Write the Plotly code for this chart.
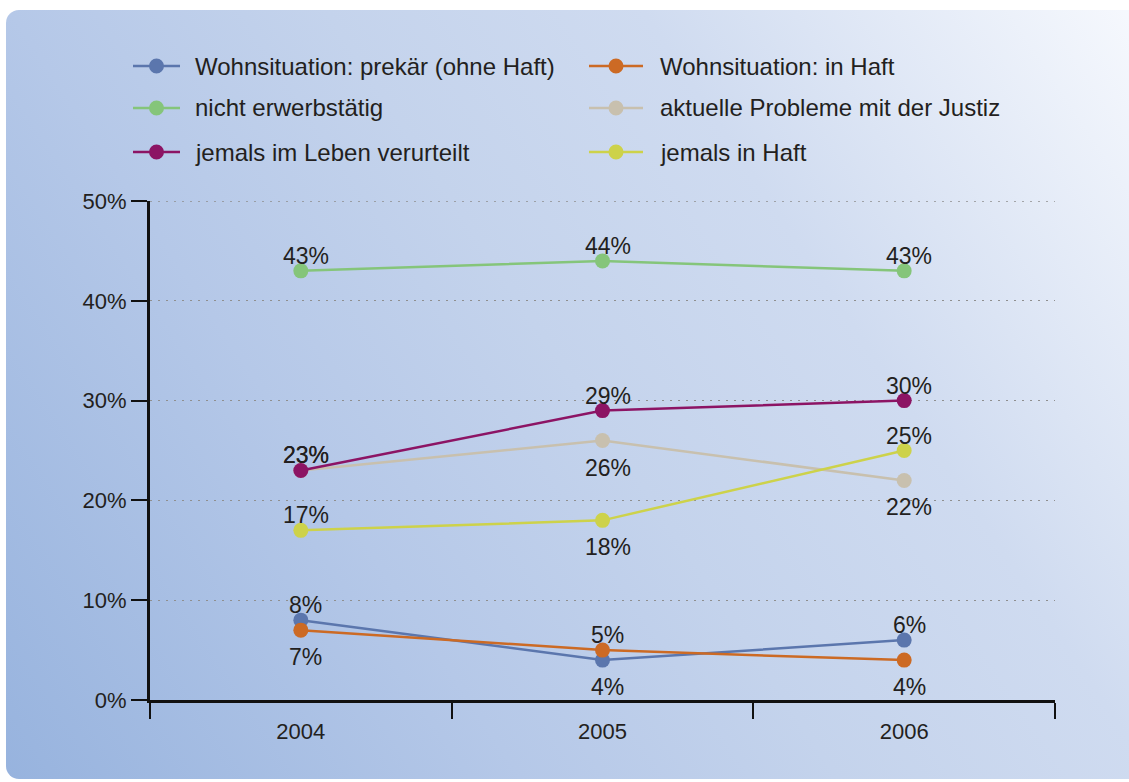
import base64
import plotly.graph_objects as go

# ---------------- data ----------------
years = ["2004", "2005", "2006"]
series_names = [
    "Wohnsituation: prekär (ohne Haft)",
    "Wohnsituation: in Haft",
    "nicht erwerbstätig",
    "aktuelle Probleme mit der Justiz",
    "jemals im Leben verurteilt",
    "jemals in Haft",
]
prekaer = [8, 4, 6]
in_haft = [7, 5, 4]
nicht_erwerb = [43, 44, 43]
probleme_justiz = [23, 26, 22]
verurteilt = [23, 29, 30]
jemals_haft = [17, 18, 25]
y_tick_values = [0, 10, 20, 30, 40, 50]
y_tick_labels = ["0%", "10%", "20%", "30%", "40%", "50%"]

series_values = [prekaer, in_haft, nicht_erwerb, probleme_justiz, verurteilt, jemals_haft]

# ---------------- styles ----------------
colors = ["#5b76ad", "#cc6a24", "#85c57a", "#c8c0ae", "#8c1464", "#cdd24a"]
UP, DN = 15, -27
label_shift = [
    [UP, DN, UP],
    [DN, UP, DN],
    [UP, UP, UP],
    [UP, DN, DN],
    [UP, UP, UP],
    [UP, DN, UP],
]
FONT = "Liberation Sans"
TXT = "#231f20"
W, H = 1129, 782
L, R, TOP, BOT = 150, 74, 201, 82
pw, ph = W - L - R, H - TOP - BOT


def px_x(x):
    return (x - L) / pw


def px_y(y):
    return (H - BOT - y) / ph


fig = go.Figure()
for name, vals, col, shifts in zip(series_names, series_values, colors, label_shift):
    fig.add_trace(go.Scatter(
        x=years, y=vals, name=name, mode="lines+markers",
        line=dict(color=col, width=2.5),
        marker=dict(color=col, size=15),
        cliponaxis=False, showlegend=False,
    ))
    for i, (v, s) in enumerate(zip(vals, shifts)):
        # category axis: annotation x given as category index
        fig.add_annotation(x=i, y=v, xref="x", yref="y", text=f"{v}%",
                           showarrow=False, xanchor="center", yanchor="middle",
                           xshift=5, yshift=s,
                           font=dict(family=FONT, size=23, color=TXT))

# dotted gridline at the top tick (plotly hides edge gridlines)
fig.add_shape(type="line", xref="paper", yref="y", x0=0, x1=1,
              y0=y_tick_values[-1], y1=y_tick_values[-1],
              line=dict(color="#8f8f8f", width=1.3, dash="2px,6px"))

# background gradient panel
bx0, by0, bx1, by1 = 6, 10, W + 30, 779
bw, bh = bx1 - bx0, by1 - by0
svg = f'''<svg xmlns="http://www.w3.org/2000/svg" width="{bw}" height="{bh}" viewBox="0 0 {bw} {bh}">
<defs><linearGradient id="g" gradientUnits="userSpaceOnUse" x1="0" y1="{bh}" x2="{bw}" y2="0">
<stop offset="0" stop-color="#97b3de"/>
<stop offset="0.31" stop-color="#b5c8e8"/>
<stop offset="0.5" stop-color="#c4d3ec"/>
<stop offset="0.69" stop-color="#cfdbf0"/>
<stop offset="1" stop-color="#f8fafe"/>
</linearGradient></defs>
<rect x="0" y="0" width="{bw}" height="{bh}" rx="13" ry="13" fill="url(#g)"/>
</svg>'''
src = "data:image/svg+xml;base64," + base64.b64encode(svg.encode()).decode()
fig.add_layout_image(dict(
    source=src, xref="paper", yref="paper",
    x=px_x(bx0), y=px_y(by0), sizex=bw / pw, sizey=bh / ph,
    xanchor="left", yanchor="top", sizing="stretch", layer="below",
))

# legend (manual, two columns)
leg_cols = [(133, 180, 193), (589, 643, 658)]
leg_rows = [66, 108, 152]
for i, (name, col) in enumerate(zip(series_names, colors)):
    lx0, lx1, tx = leg_cols[i % 2]
    ly = leg_rows[i // 2]
    fig.add_shape(type="line", xref="paper", yref="paper",
                  x0=px_x(lx0), x1=px_x(lx1), y0=px_y(ly), y1=px_y(ly),
                  line=dict(color=col, width=2.5))
    fig.add_shape(type="circle", xref="paper", yref="paper",
                  xsizemode="pixel", ysizemode="pixel",
                  xanchor=px_x((lx0 + lx1) / 2), yanchor=px_y(ly),
                  x0=-7.5, x1=7.5, y0=-7.5, y1=7.5,
                  fillcolor=col, line=dict(width=0))
    fig.add_annotation(xref="paper", yref="paper", x=px_x(tx), y=px_y(ly),
                       xanchor="left", yanchor="middle", showarrow=False,
                       text=name, font=dict(family=FONT, size=24, color=TXT))

fig.update_layout(
    width=W, height=H,
    margin=dict(l=L, r=R, t=TOP, b=BOT),
    paper_bgcolor="white", plot_bgcolor="rgba(0,0,0,0)",
    font=dict(family=FONT, size=22, color=TXT),
    showlegend=False,
    xaxis=dict(type="category", range=[-0.5, 2.5], tickson="boundaries",
               ticks="outside", ticklen=16, tickwidth=2, tickcolor="#111",
               showline=True, linecolor="#111", linewidth=3,
               showgrid=False, zeroline=False, ticklabelstandoff=10,
               tickfont=dict(family=FONT, size=22, color=TXT)),
    yaxis=dict(range=[0, 50], tickvals=y_tick_values, ticktext=y_tick_labels,
               ticks="outside", ticklen=16, tickwidth=2, tickcolor="#111",
               showline=True, linecolor="#111", linewidth=3,
               showgrid=True, gridcolor="#8f8f8f", gridwidth=1.3, griddash="2px,6px",
               zeroline=False, ticklabelstandoff=0,
               tickfont=dict(family=FONT, size=22, color=TXT)),
)

fig.write_html("out.html", config={"displayModeBar": False},
               post_script="document.body.style.margin='0';")
